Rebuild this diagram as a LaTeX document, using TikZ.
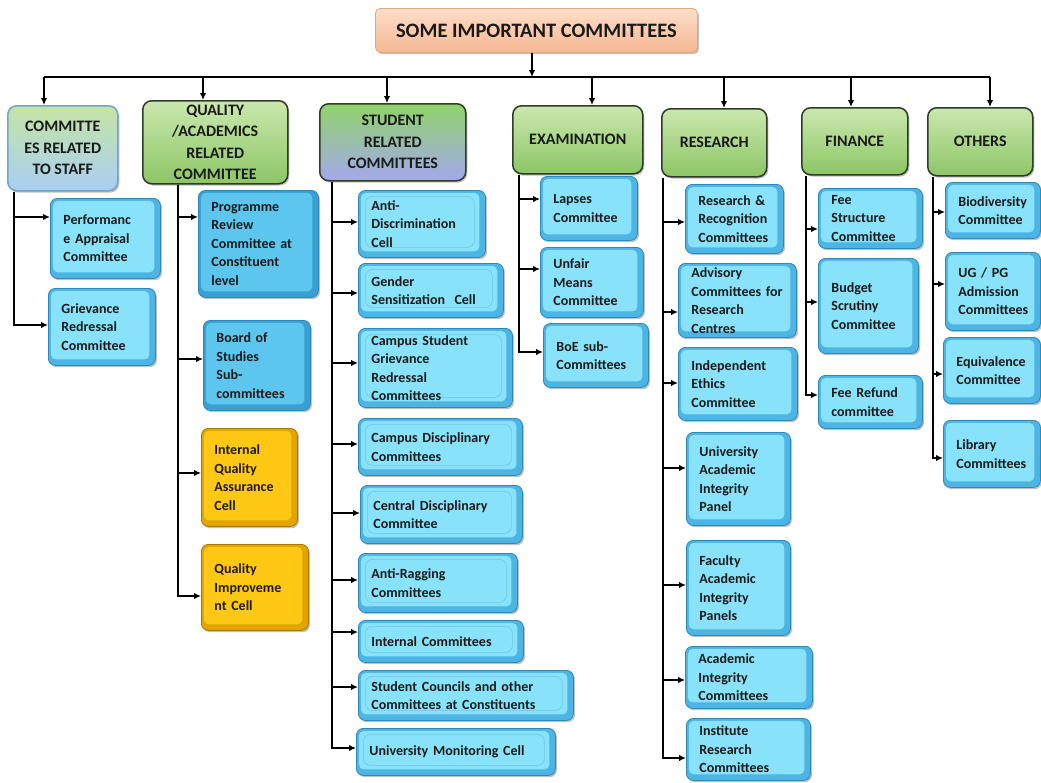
\documentclass[tikz,border=0pt]{standalone}
\usepackage{fontspec}
\setmainfont{Carlito}
\usetikzlibrary{arrows.meta,shadows}

\definecolor{txt}{HTML}{1A1A1A}
\definecolor{bin}{HTML}{88E2F9}
\definecolor{bout}{HTML}{4DB5E3}
\definecolor{bedge}{HTML}{2E88B8}
\definecolor{din}{HTML}{5DC6EF}
\definecolor{dout}{HTML}{3A9FD2}
\definecolor{gin}{HTML}{FFC814}
\definecolor{gout}{HTML}{E3A300}
\definecolor{gedge}{HTML}{A87A00}
\definecolor{gtop}{HTML}{CBE8AE}
\definecolor{gbot}{HTML}{8CC666}
\definecolor{hedge}{HTML}{2F3C28}
\definecolor{stop}{HTML}{C6E4A4}
\definecolor{sbot}{HTML}{A8CFF3}
\definecolor{sedge}{HTML}{6EA4D6}
\definecolor{utop}{HTML}{8FD36A}
\definecolor{ubot}{HTML}{A4A8EC}
\definecolor{ttop}{HTML}{FDDDC8}
\definecolor{tbot}{HTML}{F6B893}
\definecolor{tedge}{HTML}{E3A784}

\tikzset{
  shad/.style={drop shadow={shadow xshift=1.5pt,shadow yshift=-1.8pt,opacity=0.35,fill=black!70}},
  base/.style={anchor=north west, rounded corners=7pt, align=left, inner xsep=13pt,
    inner ysep=2pt, text=txt, font=\fontsize{14}{18.5}\selectfont\bfseries,
    line width=0.8pt, shad},
  bluebox/.style={base, draw=bedge, fill=bout,
    path picture={\fill[bin,rounded corners=5pt]
      ([xshift=2.5pt,yshift=-2.5pt]path picture bounding box.north west) rectangle
      ([xshift=-6pt,yshift=6pt]path picture bounding box.south east);}},
  lined/.style={bluebox,
    path picture={\fill[bin,rounded corners=5pt]
      ([xshift=2.5pt,yshift=-2.5pt]path picture bounding box.north west) rectangle
      ([xshift=-6pt,yshift=6pt]path picture bounding box.south east);
      \draw[bout!80!white,line width=0.6pt]
      ([xshift=7pt,yshift=-6pt]path picture bounding box.north west) rectangle
      ([xshift=-11pt,yshift=10pt]path picture bounding box.south east);}},
  darkbox/.style={base, draw=bedge, fill=dout,
    path picture={\fill[din,rounded corners=5pt]
      ([xshift=2.5pt,yshift=-2.5pt]path picture bounding box.north west) rectangle
      ([xshift=-6pt,yshift=6pt]path picture bounding box.south east);}},
  goldbox/.style={base, draw=gedge, fill=gout,
    path picture={\fill[gin,rounded corners=5pt]
      ([xshift=2.5pt,yshift=-2.5pt]path picture bounding box.north west) rectangle
      ([xshift=-6pt,yshift=6pt]path picture bounding box.south east);}},
  hdr/.style={anchor=north west, rounded corners=9pt, draw=hedge, line width=1.5pt,
    top color=gtop, bottom color=gbot, align=center, inner sep=0pt, text=txt,
    font=\fontsize{16}{21.5}\selectfont\bfseries, shad},
  arr/.style={-{Latex[length=7pt,width=6.5pt]}, line width=2.6pt, black},
  ln/.style={line width=2.8pt, black},
}

\newcommand\kbox[7]{%
  \pgfmathsetmacro\tw{#5-26}%
  \node[#2, minimum width=#5pt, minimum height=#6pt, text width=\tw pt] (#1) at (#3,#4) {#7};}
\newcommand\headbox[7]{%
  \node[hdr, #2, minimum width=#5pt, minimum height=#6pt] (#1) at (#3,#4) {#7};}
\newcommand\kid[3]{\draw[arr] (#1 |- 0,#3) -- (#2.west |- 0,#3);}

\begin{document}
\begin{tikzpicture}[x=1pt,y=-1pt]
\useasboundingbox (0,0) rectangle (1041,782);

% title
\node[anchor=north west, rounded corners=5pt, draw=tedge, line width=0.8pt,
  top color=ttop, bottom color=tbot, minimum width=322pt, minimum height=44pt,
  font=\fontsize{20.5}{24}\selectfont\bfseries, text=txt, shad] (title) at (375,8)
  {SOME IMPORTANT COMMITTEES};

% headers
\headbox{staff}{top color=stop, bottom color=sbot, draw=sedge}{7}{105}{110}{85}{COMMITTE\\ES RELATED\\TO STAFF}
\headbox{qual}{}{142}{100}{145}{83}{QUALITY\\/ACADEMICS\\RELATED\\COMMITTEE}
\headbox{stud}{top color=utop, bottom color=ubot}{319}{103}{146}{77}{STUDENT\\RELATED\\COMMITTEES}
\headbox{exam}{}{512}{105}{130}{68}{EXAMINATION}
\headbox{res}{}{661}{108}{105}{68}{RESEARCH}
\headbox{fin}{}{801}{107}{106}{67}{FINANCE}
\headbox{oth}{}{927}{107}{105}{68}{OTHERS}

% bus
\coordinate (busL) at (44,77);
\coordinate (busR) at (990,77);
\draw[ln] (busL) -- (busR);
\coordinate (t0) at (title.south -| 532,0);
\draw[arr] (t0) -- (t0 |- busL);
\foreach \h/\xx in {staff/44,qual/203,stud/387,exam/592,res/724,fin/851,oth/990}{
  \coordinate (h-\h) at (\h.north -| \xx,0);
  \draw[arr] (h-\h |- busL) -- (h-\h);
}

% staff
\kbox{perf}{bluebox}{50}{198}{110}{80}{Performanc\\e~Appraisal\\Committee}
\kbox{griev}{bluebox}{48}{288}{107}{77}{Grievance\\Redressal\\Committee}
\coordinate (s1) at (staff.south -| 14,0);
\draw[arr] (s1) |- (griev.west |- 0,325);
\kid{s1}{perf}{217}

% quality
\kbox{prog}{darkbox}{198}{190}{120}{107}{Programme\\Review\\Committee~at\\Constituent\\level}
\kbox{bos}{darkbox}{203}{320}{107}{90}{Board~of\\Studies\\Sub-\\committees}
\kbox{iqac}{goldbox}{201}{428}{96}{98}{Internal\\Quality\\Assurance\\Cell}
\kbox{qic}{goldbox}{201}{544}{107}{86}{Quality\\Improveme\\nt~Cell}
\coordinate (s2) at (qual.south -| 178,0);
\draw[arr] (s2) |- (qic.west |- 0,596);
\kid{s2}{prog}{217}
\kid{s2}{bos}{359}
\kid{s2}{iqac}{473}

% student
\kbox{adc}{lined}{358}{190}{127}{67}{Anti-\\Discrimination\\Cell}
\kbox{gsc}{lined}{358}{263}{145}{54}{Gender\\Sensitization~~Cell}
\kbox{csg}{lined}{358}{328}{154}{79}{Campus~Student\\Grievance\\Redressal\\Committees}
\kbox{cdc}{lined}{358}{418}{164}{57}{Campus~Disciplinary\\Committees}
\kbox{cen}{lined}{360}{485}{162}{58}{Central~Disciplinary\\Committee}
\kbox{arc}{lined}{358}{553}{159}{59}{Anti-Ragging\\Committees}
\kbox{ic}{lined}{358}{620}{165}{42}{Internal~Committees}
\kbox{scc}{lined}{358}{670}{215}{50}{Student~Councils~and~other\\Committees~at~Constituents}
\kbox{umc}{lined}{356}{728}{199}{47}{University~Monitoring~Cell}
\coordinate (s3) at (stud.south -| 332,0);
\draw[arr] (s3) |- (umc.west |- 0,748);
\kid{s3}{adc}{222}
\kid{s3}{gsc}{293}
\kid{s3}{csg}{363}
\kid{s3}{cdc}{444}
\kid{s3}{cen}{513}
\kid{s3}{arc}{580}
\kid{s3}{ic}{632}
\kid{s3}{scc}{687}

% examination
\kbox{lap}{bluebox}{540}{176}{97}{64}{Lapses\\Committee}
\kbox{unf}{bluebox}{540}{247}{103}{70}{Unfair\\Means\\Committee}
\kbox{boe}{bluebox}{543}{323}{105}{64}{BoE~sub-\\Committees}
\coordinate (s4) at (exam.south -| 519,0);
\draw[arr] (s4) |- (boe.west |- 0,352);
\kid{s4}{lap}{199}
\kid{s4}{unf}{269}

% research
\kbox{rrc}{bluebox}{685}{184}{98}{69}{Research~\&\\Recognition\\Committees}
\kbox{acr}{bluebox}{678}{263}{118}{74}{Advisory\\Committees~for\\Research\\Centres}
\kbox{iec}{bluebox}{678}{347}{119}{73}{Independent\\Ethics\\Committee}
\kbox{uaip}{bluebox}{686}{432}{104}{93}{University\\Academic\\Integrity\\Panel}
\kbox{faip}{bluebox}{686}{540}{104}{95}{Faculty\\Academic\\Integrity\\Panels}
\kbox{aic}{bluebox}{685}{646}{127}{62}{Academic\\Integrity\\Committees}
\kbox{irc}{bluebox}{686}{718}{124}{62}{Institute\\Research\\Committees}
\coordinate (s5) at (res.south -| 663,0);
\draw[arr] (s5) |- (irc.west |- 0,758);
\kid{s5}{rrc}{222}
\kid{s5}{acr}{312}
\kid{s5}{iec}{383}
\kid{s5}{uaip}{468}
\kid{s5}{faip}{585}
\kid{s5}{aic}{680}

% finance
\kbox{fsc}{bluebox}{818}{188}{104}{60}{Fee\\Structure\\Committee}
\kbox{bsc}{bluebox}{818}{258}{100}{95}{Budget\\Scrutiny\\Committee}
\kbox{frc}{bluebox}{818}{375}{104}{53}{Fee~Refund\\committee}
\coordinate (s6) at (fin.south -| 806,0);
\draw[arr] (s6) |- (frc.west |- 0,395);
\kid{s6}{fsc}{229}
\kid{s6}{bsc}{302}

% others
\kbox{bio}{bluebox}{945}{182}{95}{56}{Biodiversity\\Committee}
\kbox{ugpg}{bluebox}{945}{252}{95}{78}{UG~/~PG\\Admission\\Committees}
\kbox{equ}{bluebox}{943}{337}{97}{66}{Equivalence\\Committee}
\kbox{lib}{bluebox}{943}{420}{97}{67}{Library\\Committees}
\coordinate (s7) at (oth.south -| 933,0);
\draw[arr] (s7) |- (lib.west |- 0,458);
\kid{s7}{bio}{212}
\kid{s7}{ugpg}{284}
\kid{s7}{equ}{374}
\end{tikzpicture}
\end{document}
